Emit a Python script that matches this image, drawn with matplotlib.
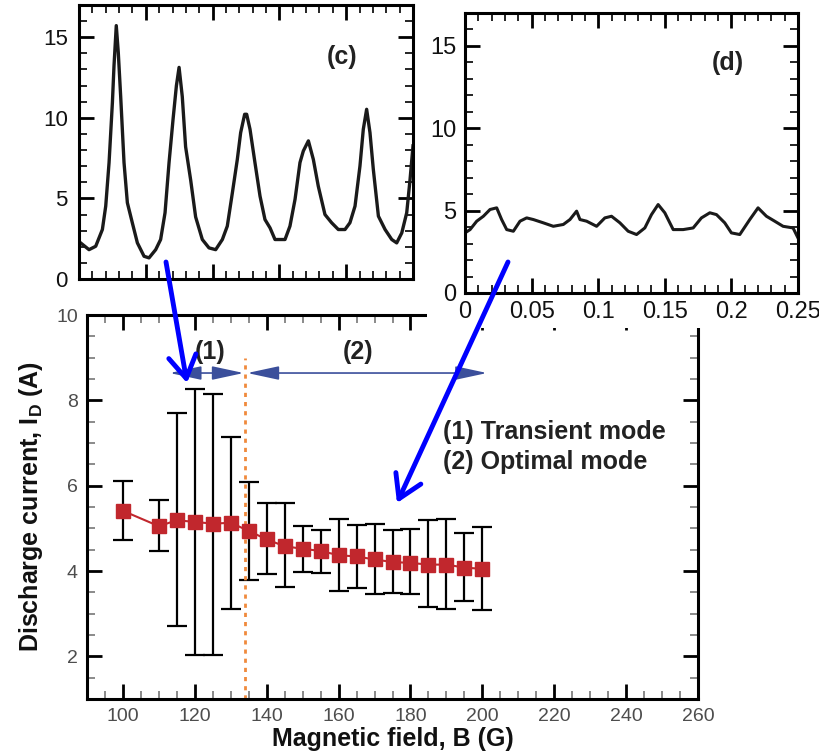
import matplotlib
matplotlib.use("Agg")
import matplotlib.pyplot as plt
import numpy as np
from matplotlib.patches import Rectangle, FancyArrowPatch
from matplotlib.ticker import MultipleLocator

# discharge current vs magnetic field (mean and error-bar bounds)
field_b = [100, 110, 115, 120, 125, 130, 135, 140, 145, 150,
           155, 160, 165, 170, 175, 180, 185, 190, 195, 200]
current_mean = [5.41, 5.05, 5.19, 5.15, 5.11, 5.13, 4.94, 4.74, 4.58, 4.52,
                4.47, 4.37, 4.34, 4.27, 4.21, 4.19, 4.15, 4.15, 4.08, 4.05]
current_low = [4.72, 4.46, 2.72, 2.04, 2.04, 3.11, 3.78, 3.92, 3.62, 3.97,
               3.95, 3.54, 3.61, 3.45, 3.48, 3.45, 3.15, 3.10, 3.29, 3.08]
current_high = [6.10, 5.66, 7.71, 8.26, 8.16, 7.14, 6.09, 5.60, 5.60, 5.05,
                4.97, 5.23, 5.07, 5.09, 4.95, 4.98, 5.19, 5.21, 4.88, 5.03]

mode_boundary = 134.0
mode1_span = (113.0, 133.6)
mode2_span = (134.6, 201.3)
mode_arrow_level = 8.64
mode_labels = ["(1)", "(2)"]
legend_lines = ["(1) Transient mode", "(2) Optimal mode"]

# current waveforms: transient (c) and optimal (d) modes
t_c = [0.0012, 0.0075, 0.0125, 0.0175, 0.0200, 0.0225, 0.0250, 0.0262, 0.0279, 0.0294,
       0.0312, 0.0337, 0.0362, 0.0399, 0.0437, 0.0487, 0.0524, 0.0574, 0.0611, 0.0644,
       0.0674, 0.0704, 0.0729, 0.0749, 0.0773, 0.0798, 0.0836, 0.0873, 0.0923, 0.0973,
       0.1023, 0.1073, 0.1110, 0.1148, 0.1185, 0.1210, 0.1240, 0.1255, 0.1280, 0.1317,
       0.1355, 0.1392, 0.1430, 0.1467, 0.1542, 0.1579, 0.1617, 0.1654, 0.1679, 0.1717,
       0.1754, 0.1791, 0.1841, 0.1891, 0.1941, 0.1991, 0.2028, 0.2066, 0.2103, 0.2128,
       0.2153, 0.2178, 0.2203, 0.2241, 0.2291, 0.2341, 0.2378, 0.2416, 0.2453, 0.2478,
       0.2500]
i_c = [2.24, 1.82, 2.03, 3.07, 4.52, 7.22, 10.95, 13.23, 15.72, 14.06,
       11.32, 7.22, 4.73, 3.49, 2.24, 1.41, 1.31, 1.82, 2.45, 4.11,
       7.22, 9.91, 11.99, 13.13, 11.32, 8.20, 6.13, 3.85, 2.45, 1.93,
       1.82, 2.45, 3.28, 5.35, 7.42, 9.08, 10.22, 10.22, 9.29, 7.22,
       5.14, 3.69, 3.17, 2.45, 2.45, 3.28, 4.94, 7.22, 7.94, 8.57,
       7.42, 5.76, 4.00, 3.49, 3.07, 3.07, 3.49, 4.52, 7.01, 9.29,
       10.53, 9.08, 6.80, 3.90, 3.07, 2.45, 2.24, 2.86, 4.11, 6.18,
       8.26]

t_d = [0.0, 0.0038, 0.0088, 0.0138, 0.0188, 0.0238, 0.0275, 0.0313, 0.0363, 0.0413,
       0.0463, 0.0513, 0.0588, 0.0663, 0.0738, 0.0788, 0.0838, 0.0863, 0.0913, 0.0988,
       0.1050, 0.1100, 0.1163, 0.1225, 0.1288, 0.1350, 0.1400, 0.1450, 0.1500, 0.1563,
       0.1638, 0.1713, 0.1775, 0.1838, 0.1888, 0.1950, 0.2000, 0.2063, 0.2138, 0.2200,
       0.2263, 0.2325, 0.2388, 0.2463, 0.2500]
i_d = [3.65, 3.85, 4.36, 4.66, 5.07, 5.17, 4.46, 3.85, 3.75, 4.36,
       4.56, 4.46, 4.26, 4.05, 4.16, 4.46, 4.97, 4.46, 4.36, 4.05,
       4.56, 4.66, 4.26, 3.75, 3.55, 3.95, 4.76, 5.37, 4.87, 3.85,
       3.85, 3.95, 4.56, 4.87, 4.76, 4.26, 3.65, 3.55, 4.46, 5.17,
       4.66, 4.36, 4.05, 3.95, 3.34]

time_ticks = [0, 0.05, 0.1, 0.15, 0.2, 0.25]
time_tick_labels = ["0", "0.05", "0.1", "0.15", "0.2", "0.25"]

plt.rcParams['font.family'] = ['Liberation Sans', 'DejaVu Sans']
plt.rcParams['mathtext.default'] = 'regular'

W, H = 819, 751
fig = plt.figure(figsize=(W / 100, H / 100), dpi=100)


def px_box(left, top, right, bottom):
    return [left / W, 1 - bottom / H, (right - left) / W, (bottom - top) / H]


def px_pt(x, y):
    return (x / W, 1 - y / H)


def style_ticks(ax, label_color, pad, size, minor_color="black"):
    ax.tick_params(which="both", direction="in", top=True, right=True)
    ax.tick_params(which="major", length=11, width=2, pad=pad, labelsize=size,
                   labelcolor=label_color)
    ax.tick_params(which="minor", length=6, width=1.2, color=minor_color)
    for s in ax.spines.values():
        s.set_linewidth(2.2)


bold = dict(fontsize=18, fontweight="bold", color="#222222")

# main panel: discharge current vs magnetic field
ax = fig.add_axes(px_box(87, 315, 698, 699))
ax.set_zorder(0)
mean = np.array(current_mean)
yerr = [mean - np.array(current_low), np.array(current_high) - mean]
ax.errorbar(field_b, current_mean, yerr=yerr, fmt="none", ecolor="black",
            elinewidth=1.6, capsize=7, capthick=1.6, zorder=2)
ax.plot(field_b, current_mean, color="#c1272d", lw=1.5, marker="s", ms=10,
        mec="#c1272d", zorder=3)
ax.vlines(mode_boundary, 1, 9, colors="#f08a3c", linestyles=(0, (1.5, 1.8)), lw=2)

arrow_kw = dict(arrowstyle="<|-|>,head_length=1.3,head_width=0.28", color="#3b4f9b",
                lw=1.2, shrinkA=0, shrinkB=0, mutation_scale=15)
ax.annotate("", xy=(mode1_span[0], mode_arrow_level), xytext=(mode1_span[1], mode_arrow_level),
            arrowprops=arrow_kw)
ax.annotate("", xy=(mode2_span[0], mode_arrow_level), xytext=(mode2_span[1], mode_arrow_level),
            arrowprops=arrow_kw)
ax.text(124.2, 9.13, mode_labels[0], ha="center", va="center", **bold)
ax.text(165.4, 9.13, mode_labels[1], ha="center", va="center", **bold)
ax.text(189.1, 7.25, legend_lines[0], ha="left", va="center", **bold)
ax.text(189.1, 6.55, legend_lines[1], ha="left", va="center", **bold)

ax.set_xlim(90, 260)
ax.set_ylim(1, 10)
ax.xaxis.set_major_locator(MultipleLocator(20))
ax.xaxis.set_minor_locator(MultipleLocator(5))
ax.yaxis.set_major_locator(MultipleLocator(2))
ax.yaxis.set_minor_locator(MultipleLocator(0.5))
style_ticks(ax, "#4d4d4d", 6.5, 14, minor_color="#777777")
ax.set_xlabel("Magnetic field, B (G)", fontsize=18, fontweight="bold", color="#111111")
ax.set_ylabel("Discharge current, I$_D$ (A)", fontsize=18, fontweight="bold", color="#111111")
ax.xaxis.set_label_coords(0.501, -0.073)
ax.yaxis.set_label_coords(-0.069, 0.5)

# white backing behind the optimal-mode inset
fig.patches.append(Rectangle(px_pt(427, 328), (W - 427) / W, 328 / H,
                             transform=fig.transFigure, facecolor="white",
                             edgecolor="none", zorder=1))

# inset (c): transient-mode current waveform
ax_c = fig.add_axes(px_box(79, 5, 413, 279))
ax_c.set_zorder(2)
ax_c.plot(t_c, i_c, color="#1a1a1a", lw=2.4)
ax_c.set_xlim(0, 0.25)
ax_c.set_ylim(0, 17)
ax_c.set_xticks(time_ticks)
ax_c.xaxis.set_minor_locator(MultipleLocator(0.01))
ax_c.yaxis.set_major_locator(MultipleLocator(5))
ax_c.yaxis.set_minor_locator(MultipleLocator(1))
style_ticks(ax_c, "#111111", 8, 16)
ax_c.tick_params(labelbottom=False)
ax_c.text(0.787, 0.81, "(c)", transform=ax_c.transAxes, ha="center", va="center", **bold)

# inset (d): optimal-mode current waveform
ax_d = fig.add_axes(px_box(465, 13, 798, 293))
ax_d.set_zorder(2)
ax_d.plot(t_d, i_d, color="#1a1a1a", lw=2.2)
ax_d.set_xlim(0, 0.25)
ax_d.set_ylim(0, 17)
ax_d.set_xticks(time_ticks)
ax_d.set_xticklabels(time_tick_labels)
ax_d.xaxis.set_minor_locator(MultipleLocator(0.01))
ax_d.yaxis.set_major_locator(MultipleLocator(5))
ax_d.yaxis.set_minor_locator(MultipleLocator(1))
style_ticks(ax_d, "#111111", 6, 17)
ax_d.text(0.79, 0.821, "(d)", transform=ax_d.transAxes, ha="center", va="center", **bold)

# blue pointers from each waveform to its operating region
for start, end in [((166, 262), (187, 383)), ((508, 262), (397, 503))]:
    fig.patches.append(FancyArrowPatch(px_pt(*start), px_pt(*end), transform=fig.transFigure,
                                       arrowstyle="->,head_length=0.9,head_width=0.55",
                                       mutation_scale=18, color="#0000ff", lw=3.5,
                                       shrinkA=0, shrinkB=0, zorder=5))

fig.savefig("out.png", dpi=100)
